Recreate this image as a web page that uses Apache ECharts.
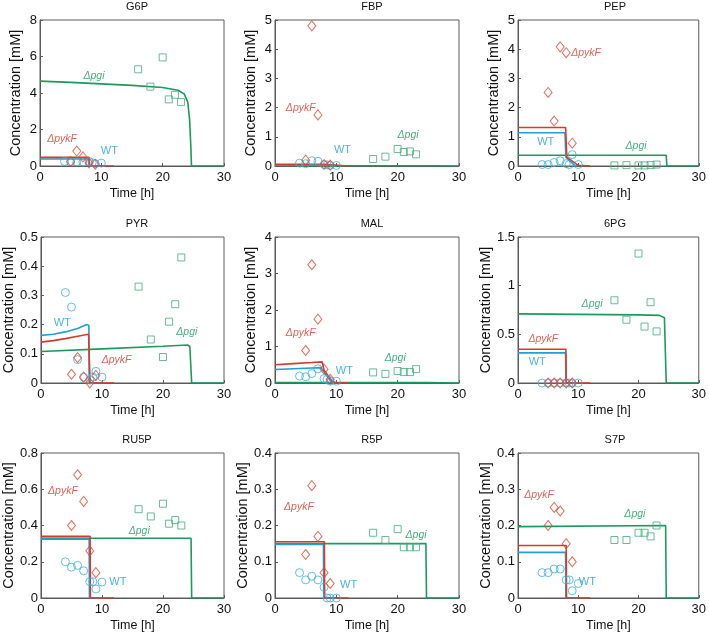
<!DOCTYPE html>
<html>
<head>
<meta charset="utf-8">
<script src="https://cdn.jsdelivr.net/npm/echarts@6/dist/echarts.min.js"></script>
<style>
html,body{margin:0;padding:0;background:#fff;}
#c{width:709px;height:633px;}
</style>
</head>
<body>
<div id="c"></div>
<script>
// ---------- DATA ----------
const titles = ['G6P', 'FBP', 'PEP', 'PYR', 'MAL', '6PG', 'RU5P', 'R5P', 'S7P'];
const yMax = [8, 5, 5, 0.5, 4, 1.5, 0.8, 0.4, 0.4];
const yStep = [2, 1, 1, 0.1, 1, 0.5, 0.2, 0.1, 0.1];

const wtTimes = [4, 5, 6, 7, 8, 8.5, 9, 10];
const pykTimes = [5, 6, 7, 8, 9];
const pgiTimes = [16, 18, 20, 21, 22, 23];

const wtValues = [
  [0.25, 0.22, 0.22, 0.22, 0.25, 0.18, 0.13, 0.16],
  [0.10, 0.08, 0.18, 0.16, 0.05, 0.04, 0.02, 0.02],
  [0.05, 0.05, 0.12, 0.18, 0.08, 0.05, 0.39, 0.05],
  [0.31, 0.26, 0.08, 0.02, 0.01, 0.02, 0.04, 0.02],
  [0.19, 0.17, 0.26, 0.39, 0.12, 0.10, 0.05, 0.05],
  [0, 0, 0, 0, 0, 0, 0, 0],
  [0.20, 0.17, 0.18, 0.15, 0.09, 0.09, 0.05, 0.088],
  [0.07, 0.05, 0.06, 0.05, 0.03, 0, 0, 0],
  [0.07, 0.07, 0.08, 0.08, 0.05, 0.05, 0.02, 0.04]
];
const pykValues = [
  [0.25, 0.82, 0.50, 0.16, 0.10],
  [0.20, 4.80, 1.75, 0.05, 0.03],
  [2.52, 1.54, 4.08, 3.88, 0.78],
  [0.03, 0.087, 0.02, 0.0, 0.026],
  [0.89, 3.24, 1.75, 0.38, 0.10],
  [0, 0, 0, 0, 0],
  [0.40, 0.68, 0.533, 0.26, 0.14],
  [0.12, 0.31, 0.17, 0.07, 0.04],
  [0.20, 0.25, 0.24, 0.15, 0.10]
];
const pgiValues = [
  [5.30, 4.35, 5.95, 3.65, 3.90, 3.50],
  [0.24, 0.32, 0.58, 0.48, 0.50, 0.40],
  [0.02, 0.03, 0.02, 0.02, 0.03, 0.05],
  [0.33, 0.149, 0.089, 0.21, 0.27, 0.43],
  [0.29, 0.25, 0.33, 0.30, 0.30, 0.38],
  [0.85, 0.65, 1.33, 0.58, 0.83, 0.53],
  [0.49, 0.45, 0.52, 0.41, 0.43, 0.40],
  [0.18, 0.16, 0.19, 0.14, 0.14, 0.14],
  [0.16, 0.16, 0.18, 0.18, 0.17, 0.20]
];

// model curves: [time, concentration]
const wtModel = [
  [[0,0.38],[7.95,0.38],[8.0,0],[10,0]],
  [[0,0.04],[7.9,0.04],[8.0,0],[10,0]],
  [[0,1.14],[7.8,1.14],[7.95,0.3],[9.5,0],[10,0]],
  [[0,0.163],[2,0.167],[4,0.175],[6,0.187],[7.5,0.2],[7.85,0.198],[7.9,0],[10,0]],
  [[0,0.37],[3,0.39],[6,0.41],[7.5,0.42],[8,0.3],[9.3,0],[10,0]],
  [[0,0.31],[7.9,0.31],[7.95,0],[10,0]],
  [[0,0.325],[7.9,0.325],[7.95,0],[10,0]],
  [[0,0.148],[7.9,0.148],[7.95,0],[10,0]],
  [[0,0.126],[7.9,0.126],[7.95,0],[10,0]]
];
const pykModel = [
  [[0,0.47],[8.0,0.47],[8.1,0],[12,0]],
  [[0,0.06],[8.0,0.06],[8.1,0],[12,0]],
  [[0,1.32],[7.9,1.32],[8.1,0.3],[10,0.02],[12,0]],
  [[0,0.14],[2,0.145],[4,0.152],[6,0.16],[7.8,0.167],[8.0,0.165],[8.05,0],[12,0]],
  [[0,0.5],[3,0.53],[6,0.56],[7.7,0.58],[8,0.35],[9.3,0.05],[10,0],[12,0]],
  [[0,0.347],[7.95,0.347],[8.0,0],[12,0]],
  [[0,0.34],[8.05,0.34],[8.1,0],[12,0]],
  [[0,0.155],[8.05,0.155],[8.1,0],[12,0]],
  [[0,0.145],[8.0,0.145],[8.05,0],[12,0]]
];
const pgiModel = [
  [[0,4.65],[5,4.58],[10,4.5],[15,4.42],[20,4.3],[22.5,4.15],[23.5,3.95],[24.1,3.5],[24.4,2.5],[24.6,1.0],[24.7,0],[30,0]],
  [[0,0.01],[24.7,0.01],[24.8,0],[30,0]],
  [[0,0.37],[24.6,0.37],[24.7,0],[30,0]],
  [[0,0.108],[10,0.117],[20,0.126],[24,0.13],[24.4,0.125],[24.7,0],[30,0]],
  [[0,0.01],[24.7,0.01],[24.8,0],[30,0]],
  [[0,0.71],[10,0.705],[20,0.7],[23.5,0.695],[24.3,0.67],[24.6,0],[30,0]],
  [[0,0.33],[24.6,0.33],[24.7,0],[30,0]],
  [[0,0.15],[24.6,0.15],[24.7,0],[30,0]],
  [[0,0.197],[24.5,0.2],[24.6,0],[30,0]]
];

// annotation anchor points (data coordinates) [WT, pykF, pgi]
const wtLabelAt  = [[11.3,0.8],[11,0.55],[4.6,0.82],[3.5,0.207],[11.3,0.33],[3.2,0.217],[12.6,0.088],[12,0.035],[11.5,0.043]];
const pykLabelAt = [[3.6,1.5],[4.2,2.0],[11.3,3.86],[12.4,0.078],[4.2,1.36],[4.2,0.45],[3.6,0.59],[3.9,0.25],[3.5,0.285]];
const pgiLabelAt = [[8.8,4.93],[21.7,1.05],[19.6,0.69],[23.9,0.175],[19.6,0.69],[12.3,0.81],[16.1,0.37],[23,0.174],[19.4,0.232]];

// ---------- LAYOUT / STYLE ----------
const colLeft = [40, 275, 518];
const rowTop = [20, 237, 453];
const gw = 184, gh = 146;
const cWT = '#1e9fd6', cPyk = '#d63a2a', cPgi = '#1c9a5c';
const mWT = '#3aaee0', mPyk = '#dc4a35', mPgi = '#42ac7c';
const FONT = 'Liberation Sans, Arial, sans-serif';

const grids = [], xAxes = [], yAxes = [], series = [], titleArr = [];
for (let i = 0; i < 9; i++) {
  const r = Math.floor(i / 3), c = i % 3;
  grids.push({left: colLeft[c], top: rowTop[r], width: gw, height: gh,
    show: true, borderColor: '#5a5a5a', borderWidth: 1, backgroundColor: '#fff'});
  titleArr.push({text: titles[i], left: colLeft[c] + gw / 2, top: rowTop[r] - 24, textAlign: 'center',
    textStyle: {fontFamily: FONT, fontSize: 11, fontWeight: 'normal', color: '#111'}});
  xAxes.push({gridIndex: i, type: 'value', min: 0, max: 30, interval: 10,
    name: 'Time [h]', nameLocation: 'middle', nameGap: 21,
    nameTextStyle: {fontFamily: FONT, fontSize: 12.5, color: '#111'},
    axisLine: {show: true, lineStyle: {color: '#5a5a5a'}},
    axisTick: {show: true, inside: true, length: 3, lineStyle: {color: '#5a5a5a'}},
    axisLabel: {fontFamily: FONT, fontSize: 13, color: '#111', margin: 5},
    splitLine: {show: false}});
  yAxes.push({gridIndex: i, type: 'value', min: 0, max: yMax[i], interval: yStep[i],
    name: 'Concentration [mM]', nameLocation: 'middle', nameGap: 17,
    nameTextStyle: {fontFamily: FONT, fontSize: 14.5, color: '#111'},
    axisLine: {show: true, lineStyle: {color: '#5a5a5a'}},
    axisTick: {show: true, inside: true, length: 3, lineStyle: {color: '#5a5a5a'}},
    axisLabel: {fontFamily: FONT, fontSize: 13, color: '#111', margin: 3},
    splitLine: {show: false}});

  const lineBase = {type: 'line', xAxisIndex: i, yAxisIndex: i, showSymbol: false, symbol: 'none', silent: true, z: 3};
  series.push(Object.assign({}, lineBase, {data: pgiModel[i], lineStyle: {color: cPgi, width: 1.6}}));
  series.push(Object.assign({}, lineBase, {data: wtModel[i], lineStyle: {color: cWT, width: 1.6}}));
  series.push(Object.assign({}, lineBase, {data: pykModel[i], lineStyle: {color: cPyk, width: 1.6}}));

  const open = (col) => ({color: 'rgba(255,255,255,0)', borderColor: col, borderWidth: 1});
  series.push({type: 'scatter', xAxisIndex: i, yAxisIndex: i, symbol: 'rect', symbolSize: 7, z: 4,
    itemStyle: open(mPgi), data: pgiTimes.map((t, k) => [t, pgiValues[i][k]])});
  series.push({type: 'scatter', xAxisIndex: i, yAxisIndex: i, symbol: 'circle', symbolSize: 8, z: 4,
    itemStyle: open(mWT), data: wtTimes.map((t, k) => [t, wtValues[i][k]])});
  series.push({type: 'scatter', xAxisIndex: i, yAxisIndex: i, symbol: 'diamond', symbolSize: [8, 10], z: 4,
    itemStyle: open(mPyk), data: pykTimes.map((t, k) => [t, pykValues[i][k]])});

  series.push({type: 'scatter', xAxisIndex: i, yAxisIndex: i, symbolSize: 0, silent: true, z: 5,
    label: {show: true, position: 'inside', fontFamily: FONT, fontSize: 10.5},
    data: [
      {value: wtLabelAt[i], label: {formatter: 'WT', color: cWT, fontSize: 11}},
      {value: pykLabelAt[i], label: {formatter: 'ΔpykF', color: cPyk, fontStyle: 'italic'}},
      {value: pgiLabelAt[i], label: {formatter: 'Δpgi', color: cPgi, fontStyle: 'italic'}}
    ]});
}

const chart = echarts.init(document.getElementById('c'), null, {renderer: 'canvas'});
chart.setOption({
  animation: false,
  backgroundColor: '#fff',
  title: titleArr,
  grid: grids,
  xAxis: xAxes,
  yAxis: yAxes,
  series: series
});
</script>
</body>
</html>
